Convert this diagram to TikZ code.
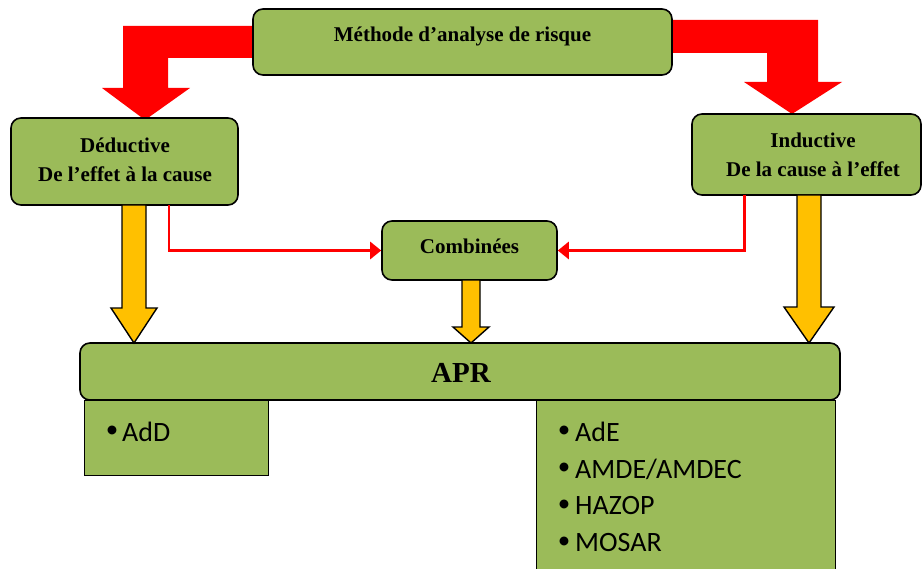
\documentclass[tikz,border=0pt]{standalone}
\usepackage{fontspec}
\setmainfont{Liberation Serif}
\newfontfamily\listfont{Carlito}
\usetikzlibrary{arrows.meta}
\definecolor{boxgreen}{HTML}{9BBB59}
\definecolor{arrowyellow}{HTML}{FFC000}
\definecolor{arrowred}{HTML}{FF0000}

\begin{document}
\begin{tikzpicture}[x=1pt,y=-1pt,
  gbox/.style={draw=black, line width=1.6pt, fill=boxgreen, rounded corners=10pt, inner sep=0pt},
  sbox/.style={draw=black, line width=1.1pt, fill=boxgreen},
  title/.style={font=\fontsize{21}{29}\selectfont\bfseries, align=center, inner sep=0pt},
  bigtitle/.style={font=\fontsize{29}{34}\selectfont\bfseries, inner sep=0pt},
  item/.style={font=\listfont\fontsize{28}{30}\selectfont, anchor=west, inner sep=0pt},
  bul/.style={font=\listfont\fontsize{25}{30}\selectfont, inner sep=0pt},
  bigred/.style={fill=arrowred, draw=none},
  blockarrow/.style={fill=arrowyellow, draw=black, line width=1.4pt, line join=miter},
  thinred/.style={draw=arrowred, line width=2.8pt, -{Triangle[length=11pt,width=17pt]}}
]
\clip (0,0) rectangle (923,569);

% bent red arrows from the method box to both branches
\fill[bigred] (260,26) -- (123,26) -- (123,88) -- (102,88) -- (145,120)
  -- (190,88) -- (168,88) -- (168,58) -- (260,58) -- cycle;
\fill[bigred] (665,20) -- (818,20) -- (818,82) -- (842,82) -- (792,114)
  -- (744,82) -- (767,82) -- (767,53) -- (665,53) -- cycle;

% boxes
\node[gbox, minimum width=419pt, minimum height=66pt] (meth) at (462.5,42) {};
\node[title] (methtxt) at (462.5,36) {Méthode d’analyse de risque};

\node[gbox, minimum width=227pt, minimum height=87pt] (ded) at (124.5,161.5) {};
\node[title] (dedtxt) at (125,159.5) {Déductive\\De l’effet à la cause};

\node[gbox, minimum width=229pt, minimum height=81pt] (ind) at (806.5,154.5) {};
\node[title] (indtxt) at (813,155) {Inductive\\De la cause à l’effet};

\node[gbox, minimum width=175pt, minimum height=59pt] (comb) at (469.5,250.5) {};
\node[title] (combtxt) at (469.5,246) {Combinées};

% lists hanging below the APR bar
\node[sbox, minimum width=184pt, minimum height=75pt, anchor=north west] (add) at (84,400) {};
\node[sbox, minimum width=299pt, minimum height=200pt, anchor=north west] (lst) at (536,400) {};

\node[gbox, minimum width=760pt, minimum height=57pt] (apr) at (460,371.5) {};
\node[bigtitle] (aprtxt) at (461,373) {APR};

\node[bul] (b0) at (112,432) {•};
\node[item] (i0) at (122,432) {AdD};
\node[bul] (b1) at (564,432) {•};
\node[item] (i1) at (575,432) {AdE};
\node[bul] (b2) at (564,469) {•};
\node[item] (i2) at (575,469) {AMDE/AMDEC};
\node[bul] (b3) at (564,506) {•};
\node[item] (i3) at (575,506) {HAZOP};
\node[bul] (b4) at (564,543) {•};
\node[item] (i4) at (575,543) {MOSAR};

% thin red links into the combined box
\coordinate (dl) at (169,205);
\coordinate (il) at (744.5,195);
\draw[thinred] (dl) |- (comb.west);
\draw[thinred] (il) |- (comb.east);

% yellow block arrows down to APR
\draw[blockarrow] (122,205) -- (122,308) -- (111,308) -- (134,343) -- (157,308)
  -- (146,308) -- (146,205) -- cycle;
\draw[blockarrow] (462,280) -- (462,327) -- (453,327) -- (471,343) -- (489,327)
  -- (480,327) -- (480,280) -- cycle;
\draw[blockarrow] (797,195) -- (797,307) -- (784,307) -- (809,343) -- (834,307)
  -- (821,307) -- (821,195) -- cycle;
\end{tikzpicture}
\end{document}
